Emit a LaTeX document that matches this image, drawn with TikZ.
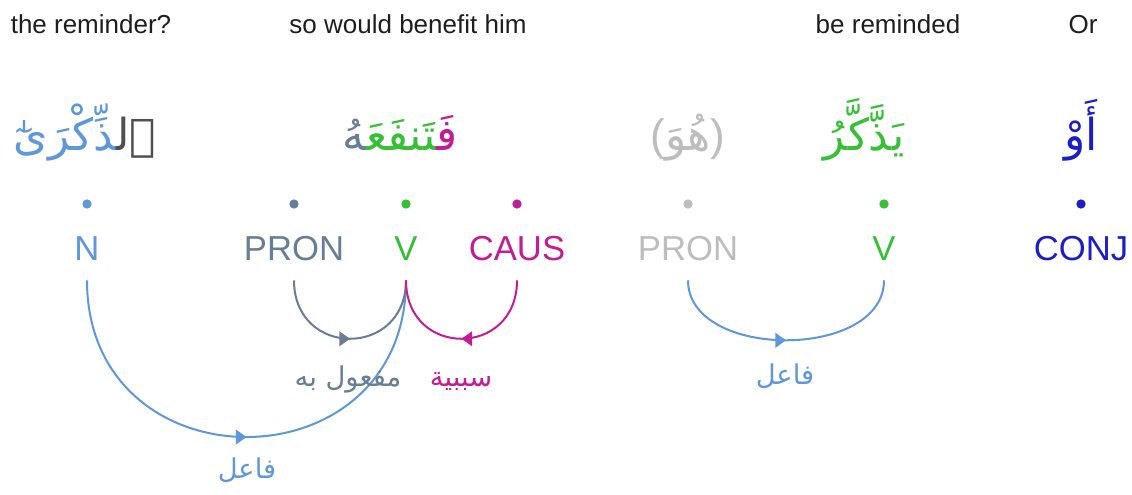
\documentclass[tikz,border=0pt]{standalone}
\usepackage{fontspec}
\usepackage{xcolor}
\setmainfont{Liberation Sans}
\newfontfamily\arabicfont[Script=Arabic]{DejaVu Sans}
\TeXXeTstate=1
\usetikzlibrary{arrows.meta,decorations.markings}
\definecolor{Ink}{HTML}{1E1E1E}
\definecolor{NounBlue}{HTML}{5E97DA}
\definecolor{AlGray}{HTML}{4F4F4F}
\definecolor{PronSlate}{HTML}{687D96}
\definecolor{VerbGreen}{HTML}{35C035}
\definecolor{CausMag}{HTML}{C41C93}
\definecolor{HiddenGray}{HTML}{BDBDBD}
\definecolor{ConjBlue}{HTML}{1C1CC8}

\begin{document}
\begin{tikzpicture}[x=0.75pt,y=-0.75pt,
  gloss/.style={anchor=base,text=Ink,font=\fontsize{19.5}{22}\selectfont},
  word/.style={anchor=base,font=\arabicfont\fontsize{33}{40}\selectfont},
  tag/.style={anchor=base,inner sep=0pt,text depth=0pt,font=\fontsize{26}{30}\selectfont},
  dot/.style={circle,inner sep=0pt,minimum size=7pt},
  rel/.style={anchor=base,font=\arabicfont\fontsize{20.5}{24}\selectfont},
  midarrow/.style={postaction={decorate},decoration={markings,
    mark=at position 0.5 with {\arrow{Triangle[length=8pt,width=11pt]}}}},
  dep/.style={line width=1.5pt,midarrow}]
\fill[white] (0,0) rectangle (1132,494);
% english glosses
\node[gloss] (glossA) at (91,33) {the reminder?};
\node[gloss] (glossB) at (408,33) {so would benefit him};
\node[gloss] (glossC) at (888,33) {be reminded};
\node[gloss] (glossD) at (1083,33) {Or};
% arabic words (pieces in visual order, left to right)
\node[word] (wordA) at (85,150) {{\color{NounBlue}^^^^200dذِّكْرَىٰٓ}{\color{AlGray}ٱل^^^^200d}};
\node[word] (wordB) at (400,150) {{\color{PronSlate}^^^^200dهُ}{\color{VerbGreen}^^^^200dتَنفَعَ^^^^200d}{\color{CausMag}فَ^^^^200d}};
\node[word,text=HiddenGray] (wordC) at (688,150) {{\normalfont(}هُوَ{\normalfont)}};
\node[word,text=VerbGreen] (wordD) at (864,150) {يَذَّكَّرُ};
\node[word,text=ConjBlue] (wordE) at (1081,150) {أَوْ};
% dots
\node[dot,fill=NounBlue] (dotN) at (87,204) {};
\node[dot,fill=PronSlate] (dotPronA) at (294,204) {};
\node[dot,fill=VerbGreen] (dotV) at (406,204) {};
\node[dot,fill=CausMag] (dotCaus) at (517,204) {};
\node[dot,fill=HiddenGray] (dotPronB) at (688,204) {};
\node[dot,fill=VerbGreen] (dotVB) at (884,204) {};
\node[dot,fill=ConjBlue] (dotConj) at (1081,204) {};
% tags
\node[tag,text=NounBlue] (tagN) at (87,260) {N};
\node[tag,text=PronSlate] (tagPronA) at (294,260) {PRON};
\node[tag,text=VerbGreen] (tagV) at (406,260) {V};
\node[tag,text=CausMag] (tagCaus) at (517,260) {CAUS};
\node[tag,text=HiddenGray] (tagPronB) at (688,260) {PRON};
\node[tag,text=VerbGreen] (tagVB) at (884,260) {V};
\node[tag,text=ConjBlue] (tagConj) at (1081,260) {CONJ};
% dependency arcs
\draw[dep,NounBlue] ([yshift=-15pt]tagN.south) .. controls +(0,209) and +(0,209) .. ([yshift=-15pt]tagV.south);
\draw[dep,PronSlate] ([yshift=-15pt]tagPronA.south) .. controls +(0,78) and +(0,78) .. ([yshift=-15pt]tagV.south);
\draw[dep,CausMag] ([yshift=-15pt]tagCaus.south) .. controls +(0,78) and +(0,78) .. ([yshift=-15pt]tagV.south);
\draw[dep,NounBlue] ([yshift=-15pt]tagPronB.south) .. controls +(0,80) and +(0,80) .. ([yshift=-15pt]tagVB.south);
% relation labels
\node[rel,text=NounBlue] (relFaelA) at (247,478) {\beginR فاعل\endR};
\node[rel,text=PronSlate] (relMafool) at (348,386) {\beginR مفعول به\endR};
\node[rel,text=CausMag] (relSababiya) at (461,386) {\beginR سببية\endR};
\node[rel,text=NounBlue] (relFaelB) at (785,384) {\beginR فاعل\endR};
\end{tikzpicture}
\end{document}
